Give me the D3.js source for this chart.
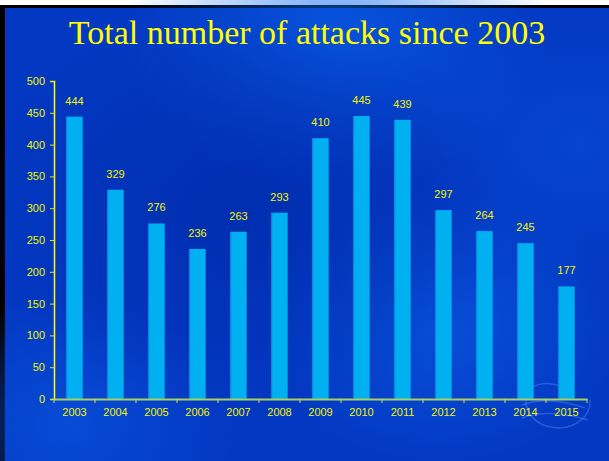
<!DOCTYPE html>
<html>
<head>
<meta charset="utf-8">
<script src="https://cdn.jsdelivr.net/npm/d3@7"></script>
<style>
  html, body { margin: 0; padding: 0; background: #fff; overflow: hidden; }
</style>
</head>
<body>
<script>
var years = ["2003","2004","2005","2006","2007","2008","2009","2010","2011","2012","2013","2014","2015"];
var attacks = [444, 329, 276, 236, 263, 293, 410, 445, 439, 297, 264, 245, 177];
var yTicks = [0, 50, 100, 150, 200, 250, 300, 350, 400, 450, 500];

var width = 609, height = 461;
var svg = d3.select("body").append("svg")
    .attr("width", width)
    .attr("height", height);

var defs = svg.append("defs");

// soft light patches in the blue background
var blobs = [
    {id: "b1", cx: 0.55, cy: 0.05, r: 0.35, c: "#0a66ee", o: 0.6},
    {id: "b2", cx: 0.72, cy: 0.7, r: 0.3, c: "#0a60ea", o: 0.6},
    {id: "b3", cx: 0.1, cy: 0.92, r: 0.28, c: "#0a58e4", o: 0.6},
    {id: "b4", cx: 0.4, cy: 0.45, r: 0.45, c: "#002aa8", o: 0.7},
    {id: "b5", cx: 0.95, cy: 0.3, r: 0.3, c: "#0a52dc", o: 0.5}
];
blobs.forEach(function(b){
    var g = defs.append("radialGradient").attr("id", b.id);
    g.append("stop").attr("offset", "0%").attr("stop-color", b.c).attr("stop-opacity", b.o);
    g.append("stop").attr("offset", "100%").attr("stop-color", b.c).attr("stop-opacity", 0);
});

// frame
svg.append("rect").attr("x", 0).attr("y", 5).attr("width", width).attr("height", height - 5).attr("fill", "#000");
var bgX = 5, bgY = 8;
svg.append("rect").attr("x", bgX).attr("y", bgY).attr("width", width - bgX).attr("height", height - bgY).attr("fill", "#0338c2");
blobs.forEach(function(b){
    svg.append("ellipse")
        .attr("cx", bgX + b.cx * (width - bgX))
        .attr("cy", bgY + b.cy * (height - bgY))
        .attr("rx", b.r * width)
        .attr("ry", b.r * height)
        .attr("fill", "url(#" + b.id + ")");
});

// title
svg.append("text")
    .attr("x", 307)
    .attr("y", 44)
    .attr("text-anchor", "middle")
    .attr("font-family", "'Liberation Serif', 'Times New Roman', serif")
    .attr("font-size", 34)
    .attr("fill", "#ffff00")
    .text("Total number of attacks since 2003");

// faint logo near bottom right
var logo = svg.append("g").attr("fill", "none").attr("stroke", "#5a8ef5").attr("stroke-opacity", 0.4).attr("stroke-width", 1.5);
logo.append("path").attr("d", "M 528,393 A 32,26 0 1 0 590,400");
logo.append("path").attr("d", "M 522,405 Q 548,395 585,408");
logo.append("path").attr("d", "M 522,418 Q 548,408 588,420");
logo.append("path").attr("d", "M 530,388 Q 545,380 560,386");

var margin = {left: 54, right: 22, top: 81, bottom: 62};
var x = d3.scaleBand()
    .domain(years)
    .range([margin.left, width - margin.right])
    .paddingInner(0.6)
    .paddingOuter(0.3);
var y = d3.scaleLinear()
    .domain([0, 500])
    .range([height - margin.bottom, margin.top]);

// bars
svg.append("g").selectAll("rect")
    .data(attacks)
    .enter().append("rect")
    .attr("x", function(d, i){ return x(years[i]); })
    .attr("y", function(d){ return y(d); })
    .attr("width", x.bandwidth())
    .attr("height", function(d){ return y(0) - y(d); })
    .attr("fill", "#00b0f0");
svg.append("g").selectAll("line")
    .data(attacks)
    .enter().append("line")
    .attr("x1", function(d, i){ return x(years[i]) + 0.5; })
    .attr("x2", function(d, i){ return x(years[i]) + 0.5; })
    .attr("y1", function(d){ return y(d); })
    .attr("y2", y(0))
    .attr("stroke", "#0a8ae0")
    .attr("stroke-width", 1);

// value labels
svg.append("g").selectAll("text")
    .data(attacks)
    .enter().append("text")
    .attr("x", function(d, i){ return x(years[i]) + x.bandwidth() / 2; })
    .attr("y", function(d){ return y(d) - 12; })
    .attr("text-anchor", "middle")
    .attr("font-family", "'Liberation Sans', Arial, sans-serif")
    .attr("font-size", 11)
    .attr("fill", "#f4f400")
    .text(function(d){ return d; });

// y axis
var yAxis = svg.append("g")
    .attr("transform", "translate(" + margin.left + ",0)")
    .call(d3.axisLeft(y).tickValues(yTicks).tickSize(4).tickPadding(5));
yAxis.select(".domain").attr("stroke", "#ffff00").attr("stroke-width", 1.5);
yAxis.selectAll(".tick line").attr("stroke", "#e8e000");
yAxis.selectAll("text")
    .attr("fill", "#f4f400")
    .attr("font-family", "'Liberation Sans', Arial, sans-serif")
    .attr("font-size", 11);

// x axis
var xAxis = svg.append("g")
    .attr("transform", "translate(0," + y(0) + ")")
    .call(d3.axisBottom(x).tickSize(0).tickPadding(9));
xAxis.select(".domain").attr("stroke", "#a8d060").attr("stroke-width", 2);
xAxis.selectAll("text")
    .attr("fill", "#f4f400")
    .attr("font-family", "'Liberation Sans', Arial, sans-serif")
    .attr("font-size", 11);

// tick marks between categories
var bounds = d3.range(years.length + 1).map(function(i){ return margin.left + (width - margin.right - margin.left) * i / years.length; });
svg.append("g").selectAll("line")
    .data(bounds)
    .enter().append("line")
    .attr("x1", function(d){ return d; })
    .attr("x2", function(d){ return d; })
    .attr("y1", y(0))
    .attr("y2", y(0) + 4)
    .attr("stroke", "#d0d860")
    .attr("stroke-width", 1);
</script>
</body>
</html>
